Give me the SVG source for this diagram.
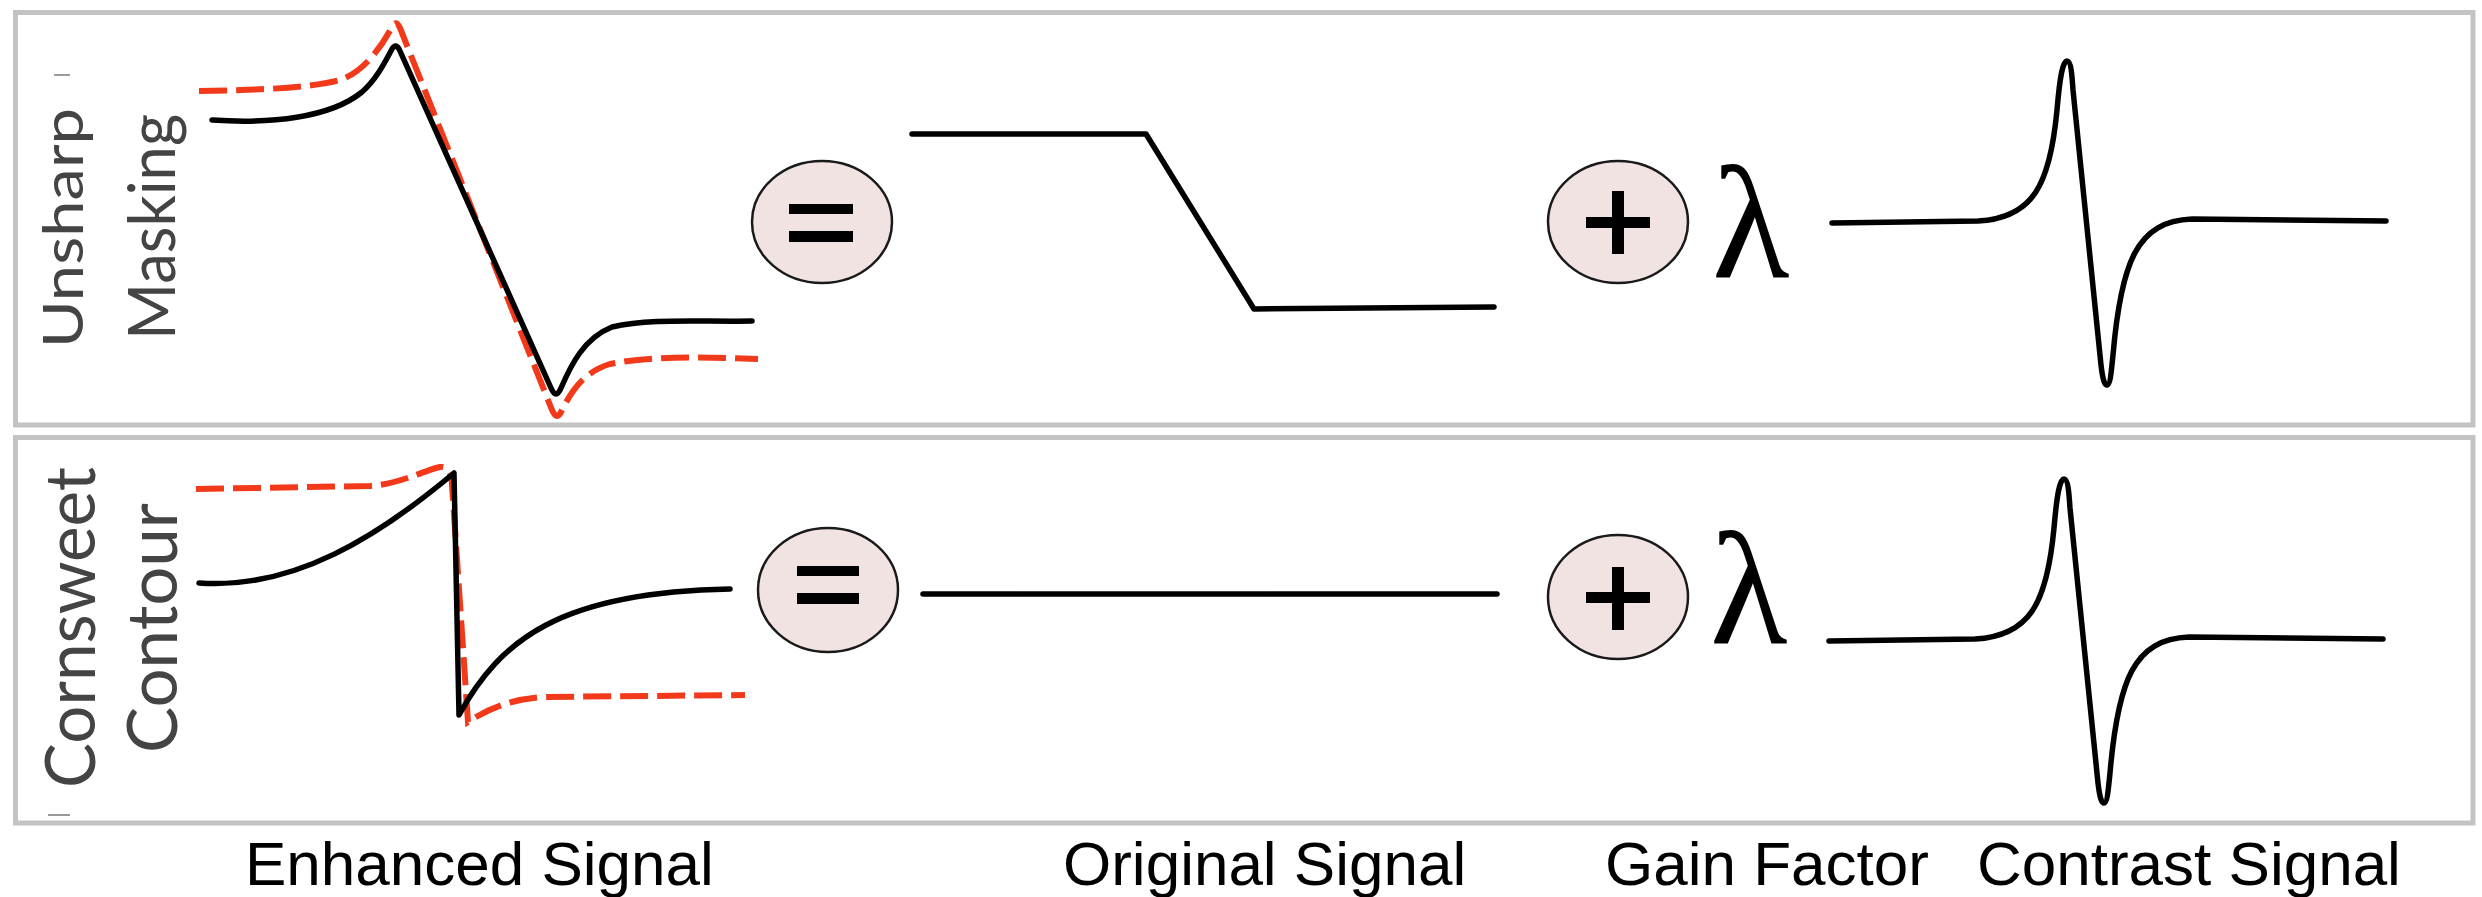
<svg xmlns="http://www.w3.org/2000/svg" xmlns:xlink="http://www.w3.org/1999/xlink" width="2482" height="897" viewBox="0 0 2482 897">
<style>
.panel{fill:#ffffff;stroke:#c3c3c3;stroke-width:5}
.sig{fill:none;stroke:#000;stroke-width:5.5;stroke-linecap:round;stroke-linejoin:round}
.enh{fill:none;stroke:#f2391a;stroke-width:6;stroke-dasharray:28 9}
.op{fill:#f2e3e3;stroke:#1a1a1a;stroke-width:2.5}
.bar{fill:#000}
.side{font-family:Lato,"Open Sans","Liberation Sans",sans-serif;fill:#444444}
.cap{font-family:"Liberation Sans",Arial,sans-serif;font-size:62px;fill:#000}
.lam{font-family:"Liberation Serif","Times New Roman",serif;font-size:160px;fill:#000}
.mark{stroke:#9a9a9a;stroke-width:2}
</style>
<defs>
<path id="contrast" d="M1832,223 L1978,221 C2033,218 2050,185 2057,110 C2060,75 2063,61 2067,61 C2071,61 2072,75 2073,90 L2101,365 C2103,382 2105,385 2107,385 C2110,385 2111,375 2113,355 C2121,262 2137,221 2192,219 L2386,221"/>
</defs>
<rect width="2482" height="897" fill="#ffffff"/>
<g id="panels">
<rect id="panel-unsharp" class="panel" x="15.5" y="12.5" width="2457.5" height="412.5"/>
<rect id="panel-cornsweet" class="panel" x="15.5" y="437.5" width="2457.5" height="385.5"/>
<line class="mark" x1="54" y1="75" x2="70" y2="75"/>
<line class="mark" x1="48" y1="815" x2="70" y2="815"/>
</g>
<g id="row-labels">
<text class="side" font-size="56" transform="translate(83,348) rotate(-90)" textLength="240" lengthAdjust="spacingAndGlyphs">Unsharp</text>
<text class="side" font-size="66" transform="translate(175,340) rotate(-90)" textLength="226" lengthAdjust="spacingAndGlyphs">Masking</text>
<text class="side" font-size="70" transform="translate(95,788) rotate(-90)" textLength="321" lengthAdjust="spacingAndGlyphs">Cornsweet</text>
<text class="side" font-size="70" transform="translate(177,753) rotate(-90)" textLength="250" lengthAdjust="spacingAndGlyphs">Contour</text>
</g>
<g id="enhanced-unsharp">
<path class="enh" d="M199,91 C260,90 310,88 340,80 C364,72 382,46 392,27 Q396,19 400,28 L552,410 Q557,422 562,410 C572,390 584,372 610,364 C650,356 700,357 758,359"/>
<path class="sig" d="M212,120 C270,124 330,118 362,92 C377,79 386,60 392,49 Q396,42 400,51 L551,388 Q556,400 561,388 C571,365 584,338 612,327 C650,318 700,322 752,321"/>
</g>
<g id="equals-1">
<ellipse class="op" cx="822" cy="222" rx="70" ry="61"/>
<rect class="bar" x="789" y="204" width="64" height="10"/>
<rect class="bar" x="789" y="231" width="64" height="11"/>
</g>
<g id="original-unsharp">
<path class="sig" d="M912,134 L1146,134 L1254,309 L1494,307"/>
</g>
<g id="plus-1">
<ellipse class="op" cx="1618" cy="222" rx="70" ry="61"/>
<rect class="bar" x="1586" y="217" width="64" height="11"/>
<rect class="bar" x="1612" y="191" width="12" height="63"/>
</g>
<g id="gain-1">
<text class="lam" x="1712" y="277">λ</text>
</g>
<g id="contrast-unsharp">
<use xlink:href="#contrast" class="sig"/>
</g>
<g id="enhanced-cornsweet">
<path class="enh" d="M196,489 L370,486 C400,484 425,470 440,467 C448,466 452,474 452,485 L468,722 C480,714 505,699 545,697 L745,695"/>
<path class="sig" d="M199,583 C295,590 380,535 454,473 L459,715 C500,640 560,592 730,589"/>
</g>
<g id="equals-2">
<ellipse class="op" cx="828" cy="590" rx="70" ry="62"/>
<rect class="bar" x="797" y="566" width="62" height="10"/>
<rect class="bar" x="797" y="593" width="62" height="11"/>
</g>
<g id="original-cornsweet">
<path class="sig" d="M923,594 L1497,594"/>
</g>
<g id="plus-2">
<ellipse class="op" cx="1618" cy="597" rx="70" ry="62"/>
<rect class="bar" x="1586" y="592" width="64" height="11"/>
<rect class="bar" x="1612" y="567" width="12" height="63"/>
</g>
<g id="gain-2">
<text class="lam" x="1710" y="643">λ</text>
</g>
<g id="contrast-cornsweet">
<use xlink:href="#contrast" class="sig" transform="translate(-3,418)"/>
</g>
<g id="connectors"></g>
<g id="captions">
<text class="cap" x="245" y="885">Enhanced Signal</text>
<text class="cap" x="1063" y="885">Original Signal</text>
<text class="cap" x="1605" y="885">Gain Factor</text>
<text class="cap" x="1977" y="885">Contrast Signal</text>
</g>
</svg>
